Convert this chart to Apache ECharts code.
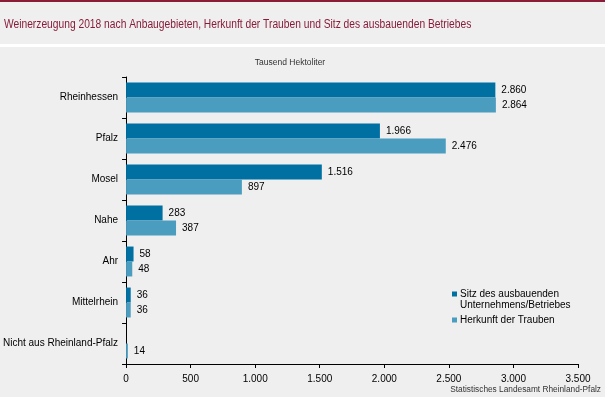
<!DOCTYPE html>
<html>
<head>
<meta charset="utf-8">
<script src="https://cdn.jsdelivr.net/npm/echarts@6/dist/echarts.min.js"></script>
<style>
  html, body { margin: 0; padding: 0; background: #eeefee; }
  #chart { width: 605px; height: 397px; }
</style>
</head>
<body>
<div id="chart"></div>
<script>
// Anbaugebiete (von oben nach unten)
var categories = ['Rheinhessen', 'Pfalz', 'Mosel', 'Nahe', 'Ahr', 'Mittelrhein', 'Nicht aus Rheinland-Pfalz'];
// Tausend Hektoliter
var sitzBetrieb = [2860, 1966, 1516, 283, 58, 36, null];
var herkunftTrauben = [2864, 2476, 897, 387, 48, 36, 14];
var xTicks = [0, 500, 1000, 1500, 2000, 2500, 3000, 3500];

var seriesNames = ['Sitz des ausbauenden Unternehmens/Betriebes', 'Herkunft der Trauben'];

function fmt(v) {
    return String(v).replace(/\B(?=(\d{3})+(?!\d))/g, '.');
}

var chart = echarts.init(document.getElementById('chart'));

var labelStyle = {
    show: true,
    position: 'right',
    distance: 6,
    fontFamily: 'Liberation Sans',
    fontSize: 10,
    color: '#000',
    formatter: function (p) { return p.value == null ? '' : fmt(p.value); }
};

var option = {
    animation: false,
    backgroundColor: '#eeefee',
    textStyle: { fontFamily: 'Liberation Sans' },
    graphic: [
        { type: 'rect', shape: { x: 0, y: 0, width: 605, height: 2 }, style: { fill: '#8a1c3a' } },
        { type: 'rect', shape: { x: 0, y: 44, width: 605, height: 3 }, style: { fill: '#ffffff' } },
        {
            type: 'text', x: 4, y: 18, scaleX: 0.82,
            style: {
                text: 'Weinerzeugung 2018 nach Anbaugebieten, Herkunft der Trauben und Sitz des ausbauenden Betriebes',
                fill: '#8a1c3a', font: '12.5px "Liberation Sans"'
            }
        },
        {
            type: 'text', x: 290, y: 58,
            style: { text: 'Tausend Hektoliter', fill: '#333', font: '8.5px "Liberation Sans"', textAlign: 'center' }
        },
        {
            type: 'text', x: 460, y: 300,
            style: { text: 'Unternehmens/Betriebes', fill: '#000', font: '10px "Liberation Sans"' }
        },
        {
            type: 'text', right: 4, top: 386,
            style: { text: 'Statistisches Landesamt Rheinland-Pfalz', fill: '#333', font: '8.3px "Liberation Sans"' }
        }
    ],
    grid: { left: 126, top: 77, width: 452, height: 287 },
    legend: {
        orient: 'vertical',
        left: 452,
        top: 289,
        padding: 0,
        itemWidth: 5,
        itemHeight: 5,
        itemGap: 16,
        icon: 'rect',
        textStyle: { fontSize: 10, color: '#000', fontFamily: 'Liberation Sans', padding: [0, 0, 0, -2] },
        formatter: function (name) { return name === seriesNames[0] ? 'Sitz des ausbauenden' : name; },
        data: seriesNames
    },
    xAxis: {
        type: 'value',
        min: 0,
        max: 3500,
        interval: 500,
        splitLine: { show: false },
        axisLine: { show: true, lineStyle: { color: '#000', width: 1 } },
        axisTick: { show: true, length: 4, lineStyle: { color: '#000' } },
        axisLabel: {
            fontSize: 10, color: '#000', margin: 10,
            formatter: function (v) { return xTicks.indexOf(v) >= 0 ? fmt(v) : ''; }
        }
    },
    yAxis: {
        type: 'category',
        inverse: true,
        data: categories,
        axisLine: { show: true, lineStyle: { color: '#000', width: 1 } },
        axisTick: { show: true, length: 4, lineStyle: { color: '#000' } },
        axisLabel: { fontSize: 10, color: '#000', margin: 8 }
    },
    series: [
        {
            name: seriesNames[0],
            type: 'bar',
            data: sitzBetrieb,
            itemStyle: { color: '#0070a3' },
            barGap: '0%',
            barCategoryGap: '27%',
            label: labelStyle
        },
        {
            name: seriesNames[1],
            type: 'bar',
            data: herkunftTrauben,
            itemStyle: { color: '#4b9dc0' },
            label: labelStyle
        }
    ]
};

chart.setOption(option);
</script>
</body>
</html>
